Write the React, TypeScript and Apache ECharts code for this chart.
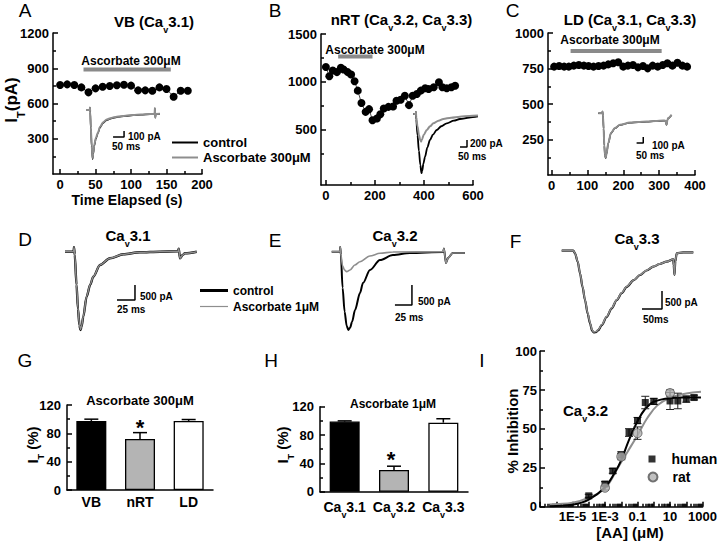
import React, { useEffect, useRef } from "react";
import * as echarts from "echarts";

const FONT = '"Liberation Sans", Arial, Helvetica, sans-serif';
const INK = "#000000";
const TRACE_GRAY = "#8e8e8e";
const DRUG_GRAY = "#8a8a8a";
const BAR_GRAY = "#b4b4b4";

/* ---------------- Panel A: VB (Cav3.1) time course ---------------- */
const A_TIME = [0, 10, 20, 30, 40, 50, 60, 70, 80, 90, 100, 110, 120, 130, 140, 150, 160, 170, 180];
const A_IT = [757, 763, 757, 737, 695, 729, 743, 749, 755, 760, 752, 712, 712, 709, 737, 723, 658, 709, 709];
const A_DRUG = [33, 156];
const A_DRUG_LEVEL = 890;
const A_X_TICKS = [0, 50, 100, 150, 200];
const A_X_MINOR = [25, 75, 125, 175];
const A_Y_TICKS = [300, 600, 900, 1200];
const A_Y_MINOR = [150, 450, 750, 1050];
// inset current traces (ms, pA)
const A_CTRL = [[0, 0], [17, 0], [18, 40], [19, -30], [22, -300], [26, -620], [30, -820], [33, -730], [38, -590], [45, -480], [54, -390], [64, -290], [78, -215], [94, -170], [115, -140], [140, -120], [180, -100], [214, -88], [250, -78], [291, -70], [312, -68], [313, 30], [315, -130], [317, -70], [336, -68]];
const A_ASC = [[0, 0], [17, 0], [18, 40], [19, -30], [22, -290], [26, -600], [30, -800], [33, -715], [38, -575], [45, -465], [54, -378], [64, -280], [78, -205], [94, -160], [115, -132], [140, -112], [180, -95], [214, -82], [250, -74], [291, -66], [312, -64], [313, 30], [315, -130], [317, -66], [336, -64]];
const A_SCALE = { ms: 50, pA: 100 };

/* ---------------- Panel B: nRT time course ---------------- */
const B_TIME = [0, 14, 28, 45, 61, 72, 89, 103, 117, 130, 145, 162, 176, 190, 208, 222, 236, 255, 274, 288, 305, 322, 339, 354, 371, 387, 405, 419, 440, 461, 475, 493, 512, 527];
const B_IT = [1155, 1060, 1120, 1102, 1148, 1130, 1102, 1077, 1007, 909, 780, 688, 716, 600, 618, 663, 723, 740, 744, 803, 814, 856, 758, 856, 874, 909, 934, 926, 944, 997, 944, 934, 944, 961];
const B_DRUG = [50, 190];
const B_DRUG_LEVEL = 1265;
const B_X_TICKS = [0, 200, 400, 600];
const B_X_MINOR = [100, 300, 500];
const B_Y_TICKS = [500, 1000, 1500];
const B_Y_MINOR = [250, 750, 1250];
const B_CTRL = [[0, 0], [18, 0], [19, 60], [21, -150], [30, -600], [40, -1050], [50, -1450], [58, -1690], [64, -1620], [72, -1420], [84, -1220], [100, -960], [119, -743], [140, -590], [167, -457], [200, -350], [239, -266], [290, -190], [333, -143], [400, -100], [462, -71]];
const B_ASC = [[0, 0], [18, 0], [19, 60], [21, -100], [30, -350], [40, -590], [50, -750], [56, -790], [62, -730], [75, -590], [96, -457], [120, -350], [143, -266], [180, -190], [214, -143], [270, -105], [333, -77], [400, -57], [462, -43]];
const B_SCALE = { ms: 50, pA: 200 };

/* ---------------- Panel C: LD time course ---------------- */
const C_TIME = [7, 21, 35, 48, 62, 76, 90, 103, 117, 131, 145, 158, 172, 186, 200, 213, 227, 241, 255, 268, 282, 296, 310, 323, 337, 351, 365, 378];
const C_IT = [763, 768, 763, 763, 770, 775, 770, 768, 763, 768, 770, 779, 787, 794, 763, 770, 775, 758, 768, 751, 770, 763, 775, 787, 770, 791, 770, 763];
const C_DRUG = [53, 307];
const C_DRUG_LEVEL = 874;
const C_X_TICKS = [0, 100, 200, 300, 400];
const C_X_MINOR = [50, 150, 250, 350];
const C_Y_TICKS = [250, 500, 750, 1000];
const C_Y_MINOR = [125, 375, 625, 875];
const C_CTRL = [[0, 0], [28, 0], [32, 30], [35, -40], [40, -260], [45, -540], [50, -700], [56, -750], [62, -680], [75, -500], [95, -333], [125, -250], [163, -195], [238, -157], [300, -148], [363, -140], [430, -130], [488, -123], [505, -125], [513, -195], [520, -110], [525, -83], [551, -28]];
const C_ASC = [[0, 0], [28, 0], [32, 30], [35, -40], [40, -255], [45, -530], [50, -690], [56, -740], [62, -672], [75, -495], [95, -328], [125, -246], [163, -192], [238, -155], [300, -146], [363, -138], [430, -128], [488, -121], [505, -123], [513, -193], [520, -108], [525, -81], [551, -26]];
const C_SCALE = { ms: 50, pA: 100 };

/* ---------------- Panels D-F: recombinant channel traces (ms, pA) ---------------- */
const D_CTRL = [[0, 0], [12, 0], [12.5, 150], [13.5, -100], [16, -1100], [18, -1900], [20, -2450], [21.5, -2610], [23, -2500], [25.4, -2167], [30, -1500], [35, -1100], [39.3, -833], [48.6, -443], [62.5, -220], [81, -87], [104, -20], [132, 0], [157, 10], [158, 100], [159.7, -220], [163, -120], [166.7, -53], [183, 0]];
const D_ASC = [[0, 0], [12, 0], [12.5, 150], [13.5, -100], [16, -1080], [18, -1880], [20, -2430], [21.5, -2590], [23, -2480], [25.4, -2150], [30, -1490], [35, -1090], [39.3, -825], [48.6, -440], [62.5, -215], [81, -85], [104, -18], [132, 0], [157, 10], [158, 100], [159.7, -220], [163, -120], [166.7, -53], [183, 0]];
const D_SCALE = { ms: 25, pA: 500 };
const E_CTRL = [[0, 0], [12, 0], [12.5, 120], [13.5, -80], [16, -900], [19, -1500], [22, -1850], [24.4, -1957], [27, -1900], [30, -1750], [34.3, -1458], [41.6, -1033], [46, -783], [56.3, -458], [71, -208], [90, -83], [115, -33], [164, -8], [165, 80], [168, -283], [171, -158], [178, -33], [196, -33]];
const E_ASC = [[0, 0], [12, 0], [12.5, 120], [13.5, -80], [16, -350], [19, -460], [22, -500], [27, -458], [34, -333], [41.6, -250], [56, -108], [71, -40], [90, -8], [164, 0], [165, 80], [168, -283], [171, -158], [178, -33], [196, -33]];
const E_SCALE = { ms: 25, pA: 500 };
const F_CTRL = [[0, 0], [29, 0], [33.3, -72], [40, -300], [45.8, -628], [52, -1000], [58.3, -1375], [65, -1750], [70.8, -2017], [76, -2220], [80, -2272], [86, -2260], [91.5, -2208], [100, -2070], [112.5, -1839], [125, -1600], [137.5, -1375], [150, -1180], [162.5, -1003], [180, -820], [195.8, -675], [212, -550], [229, -444], [245, -370], [262.5, -306], [279, -239], [280, -400], [282, -675], [284, -300], [287.5, -72], [304, -44], [329, -44]];
const F_ASC = [[0, 0], [29, 0], [33.3, -70], [40, -295], [45.8, -620], [52, -990], [58.3, -1362], [65, -1735], [70.8, -2000], [76, -2205], [80, -2258], [86, -2246], [91.5, -2195], [100, -2058], [112.5, -1828], [125, -1590], [137.5, -1366], [150, -1172], [162.5, -996], [180, -814], [195.8, -670], [212, -546], [229, -441], [245, -367], [262.5, -304], [279, -237], [280, -400], [282, -675], [284, -300], [287.5, -72], [304, -44], [329, -44]];
const F_SCALE = { ms: 50, pA: 500 };

/* ---------------- Panel G / H: normalised IT bars ---------------- */
const G_CATS = ["VB", "nRT", "LD"];
const G_VALS = [97.5, 72, 97.5];
const G_SEM = [2.5, 9, 2];
const H_CATS = ["Cav3.1", "Cav3.2", "Cav3.3"];
const H_VALS = [99, 30.7, 97.5];
const H_SEM = [1, 5.3, 5.5];
const BAR_Y_TICKS = [0, 40, 80, 120];
const BAR_Y_MINOR = [20, 60, 100];

/* ---------------- Panel I: concentration-response ---------------- */
const I_CONC_H = [1e-4, 1e-3, 3e-3, 0.01, 0.03, 0.1, 0.3, 1, 10, 30, 100, 300];
const I_INH_H = [7, 14.6, 23, 33.3, 47.7, 55.4, 67, 67.7, 68, 68, 69.2, 70.2];
const I_SEM_H = [1, 1.5, 1.5, 2, 2.5, 2, 4, 2, 5.5, 5, 2, 1.5];
const I_CONC_R = [1e-3, 0.01, 0.1, 10];
const I_INH_R = [12.2, 32.2, 47.3, 73.1];
const I_SEM_R = [1.5, 2, 4, 2];
const I_FIT_H_X = [4e-7, 1e-6, 1e-5, 1e-4, 1e-3, 4e-3, 0.01, 0.03, 0.1, 0.3, 1, 10, 100, 800];
const I_FIT_H_Y = [0.3, 0.5, 1.2, 4.5, 12.5, 22, 30, 43, 55, 63, 67.5, 69.8, 70.2, 70.3];
const I_FIT_R_X = [4e-7, 1e-6, 1e-5, 1e-4, 1e-3, 6e-3, 0.025, 0.1, 0.4, 1.6, 10, 100, 800];
const I_FIT_R_Y = [1.2, 1.6, 2.5, 5.8, 11.8, 24.8, 35.5, 46, 57, 65, 70, 72.8, 74];
const I_X_DECADES = [1e-7, 1e-6, 1e-5, 1e-4, 1e-3, 1e-2, 1e-1, 1, 10, 100, 1000];
const I_X_LABELS = [1e-5, 1e-3, 0.1, 10, 1000];
const I_X_LABEL_TEXT = ["1E-5", "1E-3", "0.1", "10", "1000"];
const I_Y_TICKS = [0, 25, 50, 75, 100];
const I_Y_MINOR = [12.5, 37.5, 62.5, 87.5];

const zip = (xs: number[], ys: number[]) => xs.map((x, i) => [x, ys[i]]);

function richFor(fs: number) {
  return {
    n: { fontSize: fs, fontWeight: "bold", fontFamily: FONT, color: INK, fill: INK, lineHeight: Math.round(fs * 1.2), verticalAlign: "middle" },
    s: { fontSize: Math.round(fs * 0.62), fontWeight: "bold", fontFamily: FONT, color: INK, fill: INK, lineHeight: Math.round(fs * 1.75), verticalAlign: "bottom" },
  };
}
function subText(parts: string[]) {
  return parts.map((p, i) => `{${i % 2 === 0 ? "n" : "s"}|${p}}`).join("");
}

function buildOption() {
  const grid: any[] = [];
  const xAxis: any[] = [];
  const yAxis: any[] = [];
  const series: any[] = [];
  const graphic: any[] = [];
  const legend: any[] = [];
  const lineSt = { color: INK, width: 1.5 };

  const addGrid = (left: number, top: number, width: number, height: number) => {
    grid.push({ left, top, width, height });
    return grid.length - 1;
  };

  const plain = (v: number) => String(v);
  const valAxis = (list: any[], gi: number, pos: string, min: number, max: number, majors: number[], minors: number[], labels: number[], margin: number, type = "value", formatter: any = plain) => {
    const common: any = { type, gridIndex: gi, position: pos, min, max, splitLine: { show: false }, splitArea: { show: false } };
    if (type === "log") common.logBase = 10;
    list.push({
      ...common,
      axisLine: { show: true, onZero: false, lineStyle: lineSt },
      axisTick: { show: true, inside: true, length: 5, lineStyle: lineSt, customValues: majors },
      axisLabel: { show: true, customValues: labels, margin, color: INK, fontSize: 13, fontWeight: "bold", fontFamily: FONT, formatter },
    });
    const main = list.length - 1;
    list.push({
      ...common,
      axisLine: { show: false, onZero: false },
      axisTick: { show: true, inside: true, length: 3, lineStyle: lineSt, customValues: minors },
      axisLabel: { show: false },
    });
    return main;
  };

  const txt = (x: number, y: number, text: string, fs: number, o: any = {}) => {
    graphic.push({
      type: "text", x, y, rotation: o.rot || 0, silent: true, z: 100,
      style: {
        text, fill: INK, fontSize: fs, fontWeight: o.weight || "bold", fontFamily: FONT,
        align: o.align || "center", textAlign: o.align || "center",
        verticalAlign: "middle", textVerticalAlign: "middle",
        rich: o.rich ? richFor(fs) : undefined,
      },
    });
  };

  const dots = (xi: number, yi: number, xs: number[], ys: number[]) => series.push({
    type: "line", xAxisIndex: xi, yAxisIndex: yi, data: zip(xs, ys), symbol: "circle", symbolSize: 8, showSymbol: true,
    itemStyle: { color: INK }, lineStyle: { color: "#222", width: 0.8 }, clip: false, silent: true, z: 3,
  });
  const drug = (xi: number, yi: number, span: number[], level: number) => series.push({
    type: "line", xAxisIndex: xi, yAxisIndex: yi, data: [[span[0], level], [span[1], level]], symbol: "none",
    lineStyle: { color: DRUG_GRAY, width: 4 }, silent: true, z: 2,
  });

  const traceGrid = (x0: number, y0: number, sx: number, sy: number, t1: number, i0: number, i1: number) => {
    const gi = addGrid(x0, y0 - i1 * sy, t1 * sx, (i1 - i0) * sy);
    xAxis.push({ type: "value", gridIndex: gi, min: 0, max: t1, show: false });
    yAxis.push({ type: "value", gridIndex: gi, min: i0, max: i1, show: false });
    return [xAxis.length - 1, yAxis.length - 1];
  };
  const trace = (ax: number[], name: string, data: any, color: string, width: number, z: number) => series.push({
    type: "line", name, xAxisIndex: ax[0], yAxisIndex: ax[1], data, symbol: "none", smooth: 0.3, smoothMonotone: "x",
    itemStyle: { color }, lineStyle: { color, width }, clip: false, silent: true, z,
  });
  const scaleBar = (ax: number[], t: number, i: number, sc: { ms: number; pA: number }) => series.push({
    type: "line", xAxisIndex: ax[0], yAxisIndex: ax[1], data: [[t - sc.ms, i], [t, i], [t, i + sc.pA]], symbol: "none",
    lineStyle: { color: INK, width: 1.5 }, clip: false, silent: true, z: 4,
  });

  /* ---- A ---- */
  const gA = addGrid(53, 33, 149, 141);
  const xA = valAxis(xAxis, gA, "bottom", -10, 200, A_X_TICKS, A_X_MINOR, A_X_TICKS, 4);
  const yA = valAxis(yAxis, gA, "left", 0, 1200, A_Y_TICKS, A_Y_MINOR, A_Y_TICKS, 4);
  drug(xA, yA, A_DRUG, A_DRUG_LEVEL);
  dots(xA, yA, A_TIME, A_IT);
  const tA = traceGrid(86, 110, 0.22, 0.06, 345, -900, 100);
  trace(tA, "control", A_CTRL, INK, 1.5, 5);
  trace(tA, "Ascorbate 300μM", A_ASC, TRACE_GRAY, 2, 6);
  scaleBar(tA, 173, -450, A_SCALE);

  /* ---- B ---- */
  const gB = addGrid(321, 34, 152, 151);
  const xB = valAxis(xAxis, gB, "bottom", -20, 600, B_X_TICKS, B_X_MINOR, B_X_TICKS, 4);
  const yB = valAxis(yAxis, gB, "left", -75, 1500, B_Y_TICKS, B_Y_MINOR, B_Y_TICKS, 4);
  drug(xB, yB, B_DRUG, B_DRUG_LEVEL);
  dots(xB, yB, B_TIME, B_IT);
  const tB = traceGrid(413.3, 114, 0.14, 0.035, 470, -1800, 100);
  trace(tB, "control", B_CTRL, INK, 1.8, 5);
  trace(tB, "Ascorbate 300μM", B_ASC, TRACE_GRAY, 2, 6);
  scaleBar(tB, 383.6, -943, B_SCALE);

  /* ---- C ---- */
  const gC = addGrid(548, 33, 147, 142);
  const xC = valAxis(xAxis, gC, "bottom", -10, 400, C_X_TICKS, C_X_MINOR, C_X_TICKS, 4);
  const yC = valAxis(yAxis, gC, "left", 0, 1000, C_Y_TICKS, C_Y_MINOR, C_Y_TICKS, 4);
  drug(xC, yC, C_DRUG, C_DRUG_LEVEL);
  dots(xC, yC, C_TIME, C_IT);
  const tC = traceGrid(598.3, 113.3, 0.133, 0.06, 560, -800, 100);
  trace(tC, "control", C_CTRL, INK, 1.5, 5);
  trace(tC, "Ascorbate 300μM", C_ASC, TRACE_GRAY, 2, 6);
  scaleBar(tC, 338, -495, C_SCALE);

  /* ---- D, E, F ---- */
  const tD = traceGrid(65, 251.7, 0.72, 0.03, 185, -2700, 200);
  trace(tD, "control", D_CTRL, INK, 2.4, 5);
  trace(tD, "Ascorbate 1μM", D_ASC, TRACE_GRAY, 1.5, 6);
  scaleBar(tD, 97.2, -1610, D_SCALE);
  const tE = traceGrid(331.7, 251.7, 0.68, 0.04, 200, -2100, 200);
  trace(tE, "control", E_CTRL, INK, 2, 5);
  trace(tE, "Ascorbate 1μM", E_ASC, TRACE_GRAY, 1.6, 6);
  scaleBar(tE, 118, -1333, E_SCALE);
  const tF = traceGrid(561.7, 250.7, 0.4, 0.036, 335, -2400, 200);
  trace(tF, "control", F_CTRL, INK, 2.2, 5);
  trace(tF, "Ascorbate 1μM", F_ASC, TRACE_GRAY, 1.6, 6);
  scaleBar(tF, 250.75, -1619, F_SCALE);

  /* ---- G, H bars ---- */
  const barFill = [INK, BAR_GRAY, "#ffffff"];
  const barPanel = (left: number, top: number, width: number, cats: string[], vals: number[], sem: number[], rich: boolean) => {
    const gi = addGrid(left, top, width, 85);
    xAxis.push({
      type: "category", gridIndex: gi, data: cats, position: "bottom",
      axisLine: { show: true, onZero: false, lineStyle: lineSt }, axisTick: { show: false },
      axisLabel: rich
        ? { interval: 0, margin: 3, formatter: (v: string) => subText(["Ca", "v", v.slice(3)]), rich: richFor(14) }
        : { interval: 0, margin: 5, color: INK, fontSize: 14, fontWeight: "bold", fontFamily: FONT },
    });
    const xi = xAxis.length - 1;
    const yi = valAxis(yAxis, gi, "left", 0, 120, BAR_Y_TICKS, BAR_Y_MINOR, BAR_Y_TICKS, 6);
    series.push({
      type: "bar", xAxisIndex: xi, yAxisIndex: yi, barWidth: 30, silent: true, z: 2,
      data: vals.map((v, i) => ({ value: v, itemStyle: { color: barFill[i], borderColor: INK, borderWidth: 1.3 } })),
    });
    series.push({
      type: "custom", xAxisIndex: xi, yAxisIndex: yi, silent: true, z: 3, encode: { x: 0, y: 1 },
      data: vals.map((v, i) => [i, v, sem[i]]),
      renderItem: (_p: any, api: any) => {
        const i = api.value(0), v = api.value(1), e = api.value(2);
        const a = api.coord([i, v]);
        const b = api.coord([i, v + e]);
        return {
          type: "group",
          children: [
            { type: "line", shape: { x1: a[0], y1: a[1], x2: b[0], y2: b[1] }, style: { stroke: INK, lineWidth: 1.5 } },
            { type: "line", shape: { x1: b[0] - 7, y1: b[1], x2: b[0] + 7, y2: b[1] }, style: { stroke: INK, lineWidth: 1.5 } },
          ],
        };
      },
    });
  };
  barPanel(67, 405, 146, G_CATS, G_VALS, G_SEM, false);
  barPanel(320, 406.7, 148, H_CATS, H_VALS, H_SEM, true);

  /* ---- I concentration response ---- */
  const gI = addGrid(540, 351.2, 165, 155.5);
  const minorLog: number[] = [];
  I_X_DECADES.slice(0, -1).forEach((d) => [2, 3, 4, 5, 6, 7, 8, 9].forEach((m) => minorLog.push(d * m)));
  const xI = valAxis(xAxis, gI, "bottom", 1e-7, 1000, I_X_DECADES, minorLog, I_X_LABELS, 3, "log",
    (v: number) => {
      const e = Math.round(Math.log10(v));
      const k = I_X_LABELS.findIndex((l) => Math.round(Math.log10(l)) === e);
      return k >= 0 ? I_X_LABEL_TEXT[k] : "";
    });
  const yI = valAxis(yAxis, gI, "left", 0, 100, I_Y_TICKS, I_Y_MINOR, I_Y_TICKS, 3);
  series.push({
    type: "line", xAxisIndex: xI, yAxisIndex: yI, data: zip(I_FIT_R_X, I_FIT_R_Y), symbol: "none", smooth: 0.4,
    lineStyle: { color: TRACE_GRAY, width: 2 }, silent: true, z: 2,
  });
  series.push({
    type: "line", xAxisIndex: xI, yAxisIndex: yI, data: zip(I_FIT_H_X, I_FIT_H_Y), symbol: "none", smooth: 0.4,
    lineStyle: { color: INK, width: 2 }, silent: true, z: 2,
  });
  const errBars = (xs: number[], ys: number[], es: number[]) => series.push({
    type: "custom", xAxisIndex: xI, yAxisIndex: yI, silent: true, z: 3, encode: { x: 0, y: 1 },
    data: xs.map((x, i) => [x, ys[i], es[i]]),
    renderItem: (_p: any, api: any) => {
      const x = api.value(0), v = api.value(1), e = api.value(2);
      const a = api.coord([x, v - e]);
      const b = api.coord([x, v + e]);
      const st = { stroke: "#222", lineWidth: 1 };
      return {
        type: "group",
        children: [
          { type: "line", shape: { x1: a[0], y1: a[1], x2: b[0], y2: b[1] }, style: st },
          { type: "line", shape: { x1: a[0] - 4, y1: a[1], x2: a[0] + 4, y2: a[1] }, style: st },
          { type: "line", shape: { x1: b[0] - 4, y1: b[1], x2: b[0] + 4, y2: b[1] }, style: st },
        ],
      };
    },
  });
  errBars(I_CONC_H, I_INH_H, I_SEM_H);
  errBars(I_CONC_R, I_INH_R, I_SEM_R);
  series.push({
    type: "scatter", name: "human", xAxisIndex: xI, yAxisIndex: yI, data: zip(I_CONC_H, I_INH_H),
    symbol: "rect", symbolSize: 7, itemStyle: { color: INK }, silent: true, z: 4,
  });
  series.push({
    type: "scatter", name: "rat", xAxisIndex: xI, yAxisIndex: yI, data: zip(I_CONC_R, I_INH_R),
    symbol: "circle", symbolSize: 9, itemStyle: { color: "#b0b0b0", borderColor: "#555", borderWidth: 1 }, silent: true, z: 5,
  });

  /* ---- legends ---- */
  const lg = (name: string, left: number, top: number, w: number, h: number, fs: number, icon?: string, textPad = 0) => legend.push({
    data: [name], left, top, orient: "vertical", itemWidth: w, itemHeight: h, icon, padding: 0, itemGap: 0,
    selectedMode: false, textStyle: { color: INK, fontSize: fs, fontWeight: "bold", fontFamily: FONT, padding: [0, 0, 0, textPad] },
  });
  lg("control", 172, 136, 26, 2, 13, "rect");
  lg("Ascorbate 300μM", 172, 151, 26, 2, 13, "rect");
  lg("control", 200, 284.5, 28, 3, 12, "rect");
  lg("Ascorbate 1μM", 200, 300.5, 28, 1.2, 12, "rect");
  lg("human", 648.5, 452, 7, 7, 14, "rect", 11);
  lg("rat", 647.5, 470, 9, 9, 14, "circle", 10);

  /* ---- texts ---- */
  const letters: [string, number, number][] = [["A", 25, 10.5], ["B", 275, 10.5], ["C", 512.5, 10.5], ["D", 25, 239.5], ["E", 275, 240.5], ["F", 515.5, 241], ["G", 25, 360.5], ["H", 271, 360.5], ["I", 482, 360.5]];
  letters.forEach(([l, x, y]) => txt(x, y, l, 19, { weight: "normal" }));

  txt(154, 21, subText(["VB (Ca", "v", "3.1)"]), 15, { rich: true });
  txt(401.5, 19.5, subText(["nRT (Ca", "v", "3.2, Ca", "v", "3.3)"]), 15, { rich: true });
  txt(630, 19.5, subText(["LD (Ca", "v", "3.1, Ca", "v", "3.3)"]), 15, { rich: true });
  txt(128, 235, subText(["Ca", "v", "3.1"]), 15, { rich: true });
  txt(395, 235, subText(["Ca", "v", "3.2"]), 15, { rich: true });
  txt(637, 238, subText(["Ca", "v", "3.3"]), 15, { rich: true });

  txt(131, 61, "Ascorbate 300μM", 12);
  txt(375, 50, "Ascorbate 300μM", 12);
  txt(610, 40, "Ascorbate 300μM", 12);
  txt(140, 400.5, "Ascorbate 300μM", 13);
  txt(393, 403.5, "Ascorbate 1μM", 12);

  const L = { align: "left" };
  txt(128, 136.5, "100 pA", 10, L); txt(112, 146, "50 ms", 10, L);
  txt(470, 143, "200 pA", 10, L); txt(458, 156, "50 ms", 10, L);
  txt(652, 145.5, "100 pA", 10, L); txt(636, 155, "50 ms", 10, L);
  txt(140, 296, "500 pA", 10, L); txt(117, 309, "25 ms", 10, L);
  txt(418, 301, "500 pA", 10, L); txt(395, 317, "25 ms", 10, L);
  txt(665, 302.5, "500 pA", 10, L); txt(643, 319, "50ms", 10, L);

  txt(11, 100, subText(["I", "T", "(pA)"]), 17, { rich: true, rot: Math.PI / 2 });
  txt(32.5, 445, subText(["I", "T", " (%)"]), 15, { rich: true, rot: Math.PI / 2 });
  txt(282.5, 445, subText(["I", "T", " (%)"]), 15, { rich: true, rot: Math.PI / 2 });
  txt(512, 431, "% Inhibition", 15, { rot: Math.PI / 2 });
  txt(127, 200, "Time Elapsed (s)", 14);
  txt(630, 532, "[AA] (μM)", 15);
  txt(563, 410, subText(["Ca", "v", "3.2"]), 15, { rich: true, align: "left" });
  txt(140, 427, "*", 22);
  txt(391, 459, "*", 22);

  return {
    animation: false,
    backgroundColor: "#ffffff",
    textStyle: { fontFamily: FONT },
    grid, xAxis, yAxis, series, legend, graphic,
  };
}

export default function App() {
  const ref = useRef<HTMLDivElement>(null);
  useEffect(() => {
    document.body.style.margin = "0";
    if (!ref.current) return;
    const chart = echarts.init(ref.current, undefined, { renderer: "svg" });
    chart.setOption(buildOption() as any);
    return () => chart.dispose();
  }, []);
  return <div ref={ref} style={{ position: "absolute", left: 0, top: 0, width: 720, height: 547 }} />;
}
